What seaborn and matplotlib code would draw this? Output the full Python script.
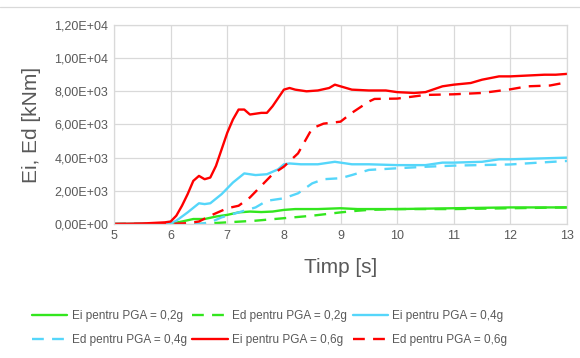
import pandas as pd
import matplotlib.pyplot as plt
import seaborn as sns

# time [s] and energies [kNm]
t_ei02 = [5, 6.0, 6.2, 6.4, 6.6, 6.8, 7.0, 7.2, 7.4, 7.6, 7.8, 8.0, 8.2, 8.6, 9.0, 9.3, 10, 11, 12, 13]
ei02 = [0, 20, 150, 300, 300, 450, 550, 700, 750, 720, 750, 850, 900, 900, 950, 900, 900, 950, 1000, 1000]

t_ed02 = [5, 6.5, 7.0, 7.5, 8.0, 8.5, 9.0, 9.3, 9.5, 10, 11, 12, 13]
ed02 = [0, 0, 100, 200, 350, 500, 700, 800, 850, 900, 900, 950, 1000]

t_ei04 = [5, 6.0, 6.1, 6.3, 6.5, 6.6, 6.7, 6.9, 7.1, 7.3, 7.4, 7.5, 7.7, 7.9, 8.0, 8.1, 8.3, 8.6,
          8.9, 9.0, 9.2, 9.5, 10.0, 10.5, 10.8, 11.0, 11.5, 11.8, 12.0, 12.5, 13.0]
ei04 = [0, 30, 200, 700, 1250, 1200, 1250, 1800, 2500, 3050, 3000, 2950, 3000, 3300, 3600, 3650, 3600, 3600,
        3750, 3700, 3600, 3600, 3550, 3550, 3700, 3700, 3750, 3900, 3900, 3950, 4000]

t_ed04 = [5, 6.5, 6.7, 6.9, 7.1, 7.3, 7.5, 7.7, 7.9, 8.0, 8.25, 8.5, 8.7, 9.0, 9.2, 9.5, 10.0, 10.5, 11.0, 12.0, 12.5, 13.0]
ed04 = [0, 0, 100, 400, 600, 800, 1000, 1400, 1500, 1550, 1850, 2450, 2700, 2760, 2950, 3260, 3360, 3450, 3520, 3590, 3700, 3800]

t_ei06 = [5, 5.5, 5.9, 6.0, 6.1, 6.2, 6.3, 6.4, 6.5, 6.6, 6.7, 6.8, 6.9, 7.0, 7.1, 7.2, 7.3, 7.4, 7.5,
          7.6, 7.7, 7.8, 7.9, 8.0, 8.1, 8.2, 8.4, 8.6, 8.8, 8.9, 9.0, 9.2, 9.5, 9.8, 10.0, 10.3, 10.5,
          10.8, 11.0, 11.3, 11.5, 11.8, 12.0, 12.3, 12.6, 12.8, 13.0]
ei06 = [0, 30, 100, 150, 500, 1100, 1800, 2600, 2900, 2700, 2800, 3500, 4500, 5500, 6300, 6900, 6900, 6600, 6650,
        6700, 6700, 7100, 7600, 8100, 8200, 8100, 8000, 8050, 8200, 8400, 8300, 8100, 8050, 8050, 7950, 7900, 7950,
        8300, 8400, 8500, 8700, 8900, 8900, 8950, 9000, 9000, 9050]

t_ed06 = [5, 6.0, 6.3, 6.5, 6.7, 6.9, 7.0, 7.2, 7.4, 7.6, 7.8, 8.0, 8.25, 8.5, 8.7, 9.0, 9.2, 9.5, 9.6,
          10.0, 10.5, 11.0, 11.5, 12.0, 12.3, 12.7, 13.0]
ed06 = [0, 0, 50, 150, 500, 800, 950, 1100, 1600, 2300, 3000, 3460, 4260, 5770, 6050, 6170, 6700, 7380, 7540,
        7560, 7780, 7820, 7900, 8120, 8300, 8350, 8545]

labels = ["Ei pentru PGA = 0,2g", "Ed pentru PGA = 0,2g", "Ei pentru PGA = 0,4g",
          "Ed pentru PGA = 0,4g", "Ei pentru PGA = 0,6g", "Ed pentru PGA = 0,6g"]
series = [(t_ei02, ei02), (t_ed02, ed02), (t_ei04, ei04), (t_ed04, ed04), (t_ei06, ei06), (t_ed06, ed06)]
colors = ["#33e61e", "#33e61e", "#55d6fa", "#55d6fa", "#ff0000", "#ff0000"]

sns.set_theme(style="whitegrid")
plt.rcParams['font.family'] = ['Liberation Sans Narrow', 'Liberation Sans', 'DejaVu Sans']

fig = plt.figure(figsize=(5.8, 3.58), dpi=100)
ax = fig.add_axes([0.1966, 0.3743, 0.781, 0.556])

for i, ((t, v), lab, c) in enumerate(zip(series, labels, colors)):
    df = pd.DataFrame({'t': t, 'v': v})
    sns.lineplot(data=df, x='t', y='v', ax=ax, color=c, linewidth=1.7, label=lab)
    if i % 2 == 1:
        ax.lines[-1].set_dashes((5, 3.5))

ax.set_xlim(5, 13)
ax.set_ylim(0, 12000)
ax.set_xticks(range(5, 14))
ax.set_yticks(range(0, 12001, 2000))
ax.set_yticklabels([f"{v:.2E}".replace('.', ',') for v in range(0, 12001, 2000)])
ax.tick_params(labelsize=9, colors='#595959', pad=4, length=0)
ax.grid(color='#d9d9d9', linewidth=0.9)
for s in ax.spines.values():
    s.set_color('#d9d9d9')
    s.set_linewidth(0.9)
ax.set_xlabel('Timp [s]', fontsize=15, color='#595959', labelpad=12)
ax.set_ylabel('Ei, Ed [kNm]', fontsize=15, color='#595959', labelpad=10)

# legend is filled row by row in the reference; matplotlib fills columns first
handles, labs = ax.get_legend_handles_labels()
ax.get_legend().remove()
order = [0, 3, 1, 4, 2, 5]
fig.legend([handles[i] for i in order], [labs[i] for i in order], loc='center',
           bbox_to_anchor=(0.465, 0.083), ncol=3, frameon=False, fontsize=8.5,
           handlelength=3.0, columnspacing=0.5, handletextpad=0.35, labelspacing=1.05,
           labelcolor='#595959')

fig.add_artist(plt.Line2D([0, 1], [0.98, 0.98], color='#d9d9d9', linewidth=0.9))

plt.savefig('out.png', dpi=100)
